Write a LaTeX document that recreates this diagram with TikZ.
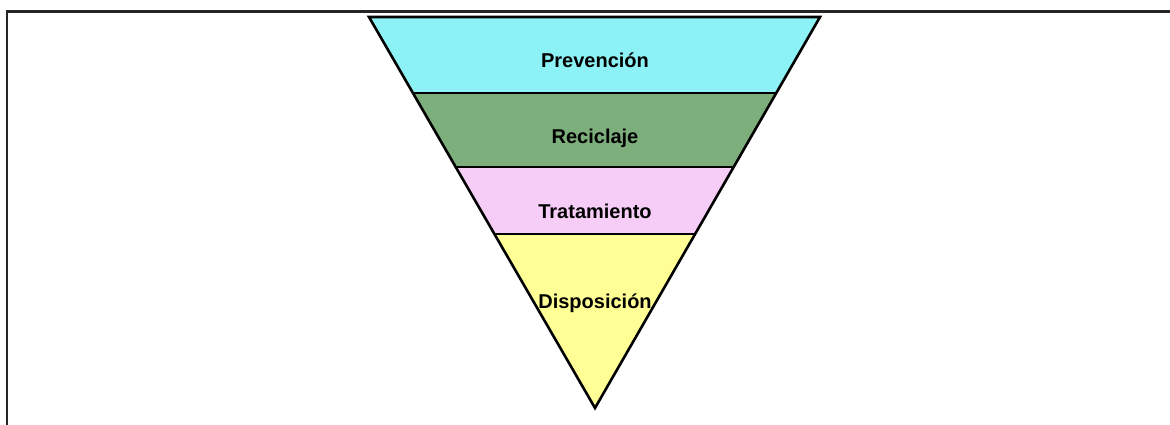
\documentclass[tikz,border=0pt]{standalone}
\usepackage{fontspec}
\setmainfont{Liberation Sans}
\begin{document}
\begin{tikzpicture}[x=1pt,y=-1pt,
  band/.style={draw=black,line width=2.6pt,line join=miter},
  lbl/.style={anchor=base,inner sep=0pt,font=\fontsize{20}{22}\selectfont\bfseries,text=black}]
\useasboundingbox (0,0) rectangle (1170,425);
\definecolor{cPrev}{RGB}{140,242,245}
\definecolor{cReci}{RGB}{125,175,125}
\definecolor{cTrat}{RGB}{246,205,246}
\definecolor{cDisp}{RGB}{255,255,150}
% frame (top and left lines only)
\draw[line width=2.4pt,black!85] (7,425) -- (7,11.5) -- (1170,11.5);
% key points on the triangle edges
\coordinate (TL) at (369,17);
\coordinate (TR) at (820,17);
\coordinate (A) at (595,408);
\coordinate (L1) at (413,93);  \coordinate (R1) at (777,93);
\coordinate (L2) at (456,167); \coordinate (R2) at (734,167);
\coordinate (L3) at (495,234); \coordinate (R3) at (695,234);
% bands
\fill[cPrev] (TL) -- (TR) -- (R1) -- (L1) -- cycle;
\fill[cReci] (L1) -- (R1) -- (R2) -- (L2) -- cycle;
\fill[cTrat] (L2) -- (R2) -- (R3) -- (L3) -- cycle;
\fill[cDisp] (L3) -- (R3) -- (A) -- cycle;
\draw[band] (L1) -- (R1);
\draw[band] (L2) -- (R2);
\draw[band] (L3) -- (R3);
\draw[band] (TL) -- (TR) -- (A) -- cycle;
% labels
\node[lbl] (prev) at (595,68) {Prevención};
\node[lbl] (reci) at (595,143) {Reciclaje};
\node[lbl] (trat) at (595,218) {Tratamiento};
\node[lbl] (disp) at (595,308) {Disposición};
\end{tikzpicture}
\end{document}
